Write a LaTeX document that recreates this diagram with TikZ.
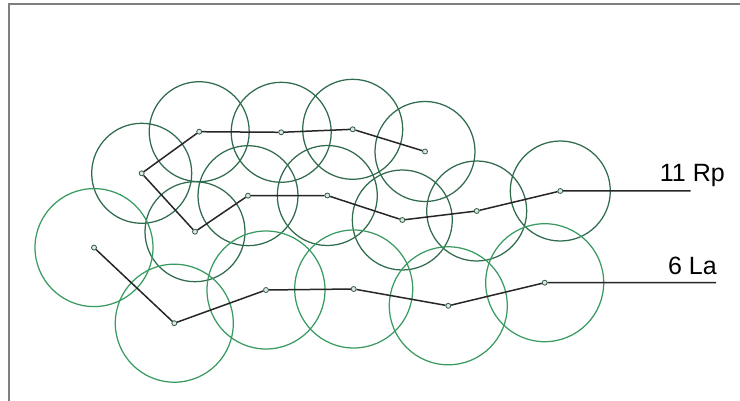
\documentclass[tikz,border=0pt]{standalone}
\usepackage{fontspec}
\setmainfont{Liberation Sans}
\definecolor{upgreen}{HTML}{2F6B4C}
\definecolor{lowgreen}{HTML}{3A9B62}
\definecolor{dotc}{HTML}{2F5A44}
\definecolor{dotfill}{HTML}{DDE8E0}
\definecolor{framec}{HTML}{7F7F7F}
\begin{document}
\begin{tikzpicture}[x=1pt,y=-1pt,
  dot/.style={circle,draw=dotc,fill=dotfill,line width=0.8pt,inner sep=0pt,minimum size=5pt},
  upc/.style={draw=upgreen,line width=1.25pt},
  lowc/.style={draw=lowgreen,line width=1.25pt},
  chain/.style={draw=black!85,line width=1.5pt},
  lab/.style={font=\fontsize{25}{28}\selectfont,anchor=base east,inner sep=0pt}]
\useasboundingbox (0,0) rectangle (740,401);
\draw[framec,line width=2pt] (8.5,401) -- (8.5,4.5) -- (740,4.5);
% upper chain (11 Rp) positions
\coordinate (pr1) at (425,151.5);
\coordinate (pr2) at (352.7,129.3);
\coordinate (pr3) at (281.2,132.3);
\coordinate (pr4) at (199.2,131.7);
\coordinate (pr5) at (141.7,173.3);
\coordinate (pr6) at (195,231.7);
\coordinate (pr7) at (248,195.7);
\coordinate (pr8) at (327.3,195.5);
\coordinate (pr9) at (402.3,220);
\coordinate (pr10) at (476.7,211);
\coordinate (pr11) at (560.3,191);
% lower chain (6 La)
\coordinate (pl1) at (94,247.6);
\coordinate (pl2) at (174.3,323.2);
\coordinate (pl3) at (266,290);
\coordinate (pl4) at (353.7,289);
\coordinate (pl5) at (448.3,305.8);
\coordinate (pl6) at (544.7,282.7);
% circles
\foreach \p in {pr1,pr2,pr3,pr4,pr5,pr6,pr7,pr8,pr9,pr10,pr11}
  \draw[upc] (\p) circle[radius=50];
\foreach \p in {pl1,pl2,pl3,pl4,pl5,pl6}
  \draw[lowc] (\p) circle[radius=59];
% dots
\foreach \i in {1,...,11} \node[dot] (r\i) at (pr\i) {};
\foreach \i in {1,...,6} \node[dot] (l\i) at (pl\i) {};
\coordinate (rend) at (690.5,191);
\coordinate (lend) at (716,282.7);
\draw[chain] (r1) -- (r2) -- (r3) -- (r4) -- (r5) -- (r6) -- (r7) -- (r8) -- (r9) -- (r10) -- (r11) -- (rend);
\draw[chain] (l1) -- (l2) -- (l3) -- (l4) -- (l5) -- (l6) -- (lend);
\node[lab] (rp) at (725,181.7) {11 Rp};
\node[lab] (la) at (717,275) {6 La};
\end{tikzpicture}
\end{document}
